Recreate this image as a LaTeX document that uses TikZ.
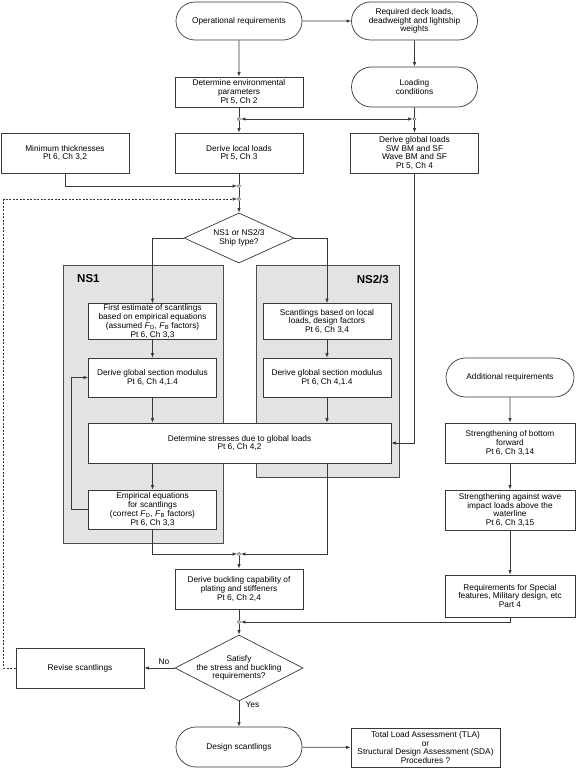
\documentclass[tikz,border=0pt]{standalone}
\usepackage{fontspec}
\setmainfont{Liberation Sans}
\usetikzlibrary{shapes.misc,shapes.geometric,arrows.meta}

\begin{document}
\begin{tikzpicture}[x=1pt, y=-1pt, font=\fontsize{8.3}{8.7}\selectfont]
            \tikzset{line/.style={draw=black!78, line width=0.7pt},
                flow/.style={line, -{Latex[length=4.5pt, width=3.4pt]}},
                procbox/.style={line, fill=white, minimum width=128pt, minimum height=40pt, align=center, inner sep=1pt},
                termbox/.style={procbox, rounded rectangle},
                choice/.style={line, fill=white, diamond, inner sep=0pt},
                junc/.style={circle, draw=black!78, line width=0.5pt, fill=white, inner sep=0pt, minimum size=3.2pt},
                panel/.style={draw=black!70, fill=black!11, line width=0.7pt},
                paneltag/.style={font=\fontsize{11.5}{12}\selectfont\bfseries, inner sep=0pt}}
            \useasboundingbox (0,0) rectangle (576,768);
            % shaded groups
            \draw[panel] (63,265) rectangle (223,543);
            \draw[panel] (256,265) rectangle (399,477);
            \node[paneltag, anchor=west] (tagA) at (77,279) {NS1};
            \node[paneltag, anchor=east] (tagB) at (389,279) {NS2/3};
            % top of the chart
            \node[termbox, minimum height=38pt] (opreq) at (239,21) {Operational requirements};
            \node[termbox, minimum height=38pt] (deck) at (414.5,21) {Required deck loads,\\deadweight and lightship\\weights};
            \node[procbox, minimum height=30pt] (env) at (239,92) {Determine environmental\\parameters\\Pt 5, Ch 2};
            \node[termbox] (loadcond) at (414.5,87) {Loading\\conditions};
            \node[junc] (jA) at (239,119) {};
            \node[junc] (jB) at (414.5,119) {};
            \node[procbox] (minthk) at (65,153) {Minimum thicknesses\\Pt 6, Ch 3,2};
            \node[procbox] (local) at (239,153) {Derive local loads\\Pt 5, Ch 3};
            \node[procbox] (global) at (414.5,153) {Derive global loads\\SW BM and SF\\Wave BM and SF\\Pt 5, Ch 4};
            \node[junc] (jC) at (239,186) {};
            \node[junc] (jD) at (239,199) {};
            \node[choice, minimum width=110pt, minimum height=50pt, label={[align=center]center:{NS1 or NS2/3\\Ship type?}}] (ship) at (239,238) {};
            % the two routes
            \node[procbox, minimum height=36pt] (first) at (152.5,321.5) {First estimate of scantlings\\based on empirical equations\\(assumed \textit{F}\textsubscript{D}, \textit{F}\textsubscript{B} factors)\\Pt 6, Ch 3,3};
            \node[procbox, minimum height=36pt] (nsloc) at (327,321.5) {Scantlings based on local\\loads, design factors\\Pt 6, Ch 3,4};
            \node[procbox, minimum height=39pt] (gsmA) at (152.5,377.5) {Derive global section modulus\\Pt 6, Ch 4,1.4};
            \node[procbox, minimum height=39pt] (gsmB) at (327,377.5) {Derive global section modulus\\Pt 6, Ch 4,1.4};
            \node[procbox, minimum width=303pt] (stress) at (239.5,443) {Determine stresses due to global loads\\Pt 6, Ch 4,2};
            \node[procbox, minimum height=39pt] (empir) at (152.5,509.5) {Empirical equations\\for scantlings\\(correct \textit{F}\textsubscript{D}, \textit{F}\textsubscript{B} factors)\\Pt 6, Ch 3,3};
            % extra requirements
            \node[termbox, minimum width=130pt, minimum height=39pt] (addreq) at (510,377.5) {Additional requirements};
            \node[procbox, minimum width=130pt] (bottom) at (510,443) {Strengthening of bottom\\forward\\Pt 6, Ch 3,14};
            \node[procbox, minimum width=130pt] (wave) at (510,510) {Strengthening against wave\\impact loads above the\\waterline\\Pt 6, Ch 3,15};
            \node[procbox, minimum width=130pt, minimum height=42pt] (special) at (510,596) {Requirements for Special\\features, Military design, etc\\Part 4};
            % checking
            \node[junc] (jE) at (239,554) {};
            \node[procbox] (buckle) at (239,589) {Derive buckling capability of\\plating and stiffeners\\Pt 6, Ch 2,4};
            \node[junc] (jF) at (239,622) {};
            \node[choice, minimum width=128pt, minimum height=66pt, label={[align=center]center:{Satisfy\\the stress and buckling\\requirements?}}] (check) at (239,668) {};
            \node[procbox] (revise) at (80,668) {Revise scantlings};
            \node[termbox] (design) at (239,747) {Design scantlings};
            \node[procbox, minimum width=149pt, minimum height=39pt] (tla) at (425.5,747.5) {Total Load Assessment (TLA)\\or\\Structural Design Assessment (SDA)\\Procedures ?};
            % connectors
            \draw[flow] (opreq) -- (deck);
            \draw[flow] (opreq) -- (env);
            \draw[flow] (deck) -- (loadcond);
            \draw[line] (env) -- (jA);
            \draw[line] (loadcond) -- (jB);
            \draw[line, {Latex[length=4.5pt, width=3.4pt]}-{Latex[length=4.5pt, width=3.4pt]}] (jA) -- (jB);
            \draw[flow] (jA) -- (local);
            \draw[flow] (jB) -- (global);
            \draw[flow] (minthk.south) |- (jC);
            \draw[line] (local) -- (jC) -- (jD);
            \draw[flow] (jD) -- (ship);
            \draw[flow] (ship.west) -| (first.north);
            \draw[flow] (ship.east) -| (nsloc.north);
            \draw[flow] (first) -- (gsmA);
            \draw[flow] (nsloc) -- (gsmB);
            \draw[flow] (gsmA.south) -- (gsmA.south |- stress.north);
            \draw[flow] (gsmB.south) -- (gsmB.south |- stress.north);
            \draw[flow] (global.south) |- (stress.east);
            \draw[flow] (empir.north |- stress.south) -- (empir.north);
            \draw[flow] (empir.west) -- ++(-16.5,0) |- (gsmA.west);
            \draw[flow] (empir.south) |- (jE);
            \draw[flow] (stress.south -| nsloc.south) |- (jE);
            \draw[flow] (addreq) -- (bottom);
            \draw[flow] (bottom) -- (wave);
            \draw[flow] (wave) -- (special);
            \draw[flow] (jE) -- (buckle);
            \draw[line] (buckle) -- (jF);
            \draw[flow] (special.south) |- (jF);
            \draw[flow] (jF) -- (check);
            \draw[flow] (check.west) -- node[above, pos=0.35] {No} (revise.east);
            \draw[flow] (check.south) -- node[right, pos=0.12, xshift=3pt] {Yes} (design.north);
            \draw[flow] (design) -- (tla);
            \draw[flow, dashed, dash pattern=on 2pt off 1.5pt] (revise.west) -- ++(-12,0) |- (jD);
\end{tikzpicture}
\end{document}
